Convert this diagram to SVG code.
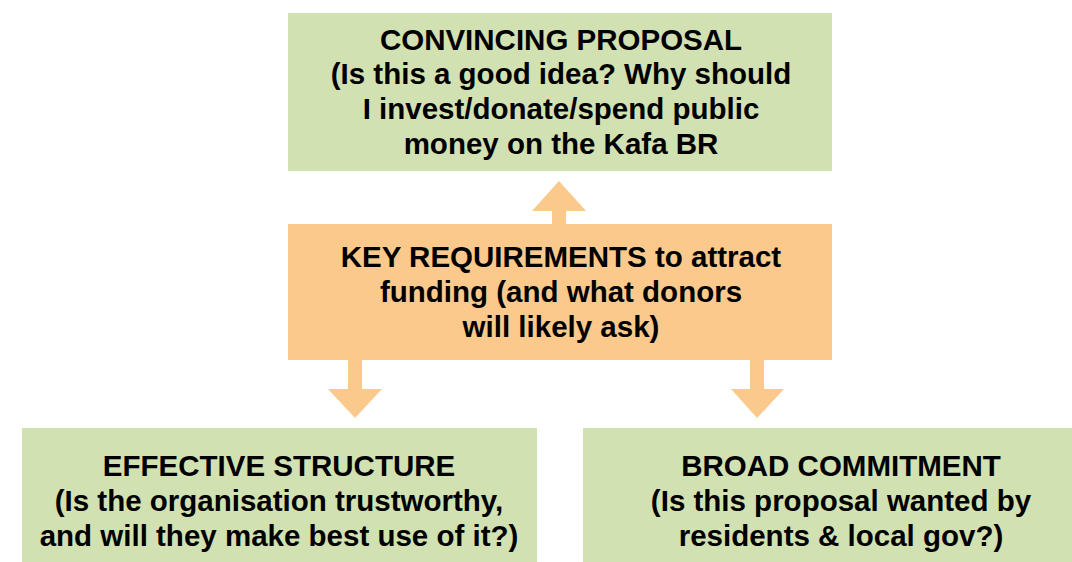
<svg xmlns="http://www.w3.org/2000/svg" width="1072" height="562" viewBox="0 0 1072 562">
<style>
.g{fill:#d1e1b2}
.o{fill:#fac98b}
.t{font-family:"Liberation Sans",Arial,sans-serif;font-weight:bold;font-size:29.5px;fill:#000;text-anchor:middle}
.a{fill:#fac98b}
</style>
<rect width="1072" height="562" fill="#fff"/>
<g id="connectors">
<path class="a" d="M552,226 V211 H532 L559,181 L586,211 H566 V226 Z"/>
<path class="a" d="M348,358 V389 H328 L355,418 L382,389 H362 V358 Z"/>
<path class="a" d="M750,358 V389 H731 L757,418 L784,389 H764 V358 Z"/>
</g>
<g id="proposal">
<rect class="g" x="288" y="13" width="544" height="158"/>
<text class="t" x="561" y="50">CONVINCING PROPOSAL</text>
<text class="t" x="561" y="84">(Is this a good idea? Why should</text>
<text class="t" x="561" y="119">I invest/donate/spend public</text>
<text class="t" x="561" y="154">money on the Kafa BR</text>
</g>
<g id="requirements">
<rect class="o" x="288" y="224" width="544" height="136"/>
<text class="t" x="561" y="267">KEY REQUIREMENTS to attract</text>
<text class="t" x="561" y="302">funding (and what donors</text>
<text class="t" x="561" y="337">will likely ask)</text>
</g>
<g id="structure">
<rect class="g" x="22" y="428" width="515" height="134"/>
<text class="t" x="279" y="476">EFFECTIVE STRUCTURE</text>
<text class="t" x="279" y="511">(Is the organisation trustworthy,</text>
<text class="t" x="279" y="546">and will they make best use of it?)</text>
</g>
<g id="commitment">
<rect class="g" x="583" y="428" width="517" height="134"/>
<text class="t" x="841" y="476">BROAD COMMITMENT</text>
<text class="t" x="841" y="511">(Is this proposal wanted by</text>
<text class="t" x="841" y="546">residents &amp; local gov?)</text>
</g>
</svg>
